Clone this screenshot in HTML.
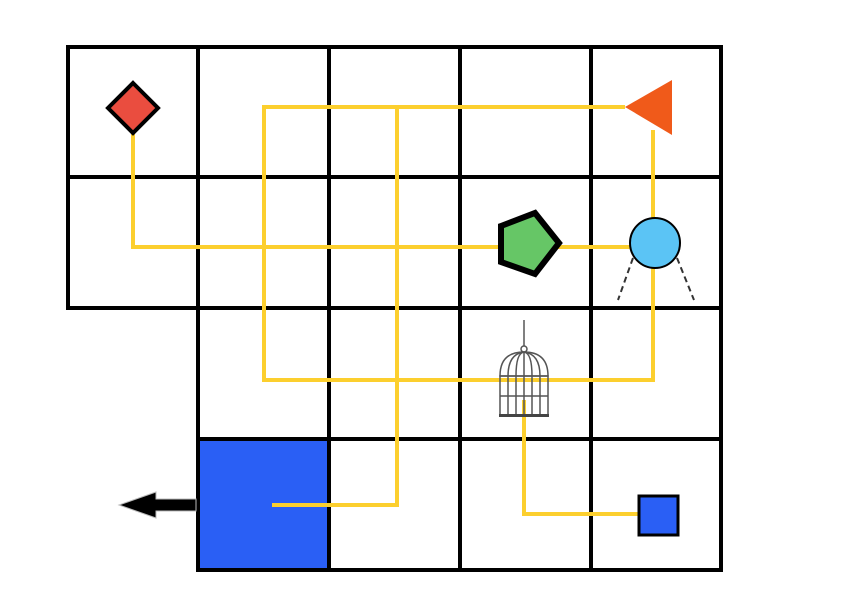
<!DOCTYPE html>
<html><head><style>body{margin:0;background:#fff}</style></head><body>
<svg width="843" height="597" xmlns="http://www.w3.org/2000/svg">
<rect x="198" y="439" width="131" height="131" fill="#2a5ff5"/>
<g stroke="#000" stroke-width="4" fill="none">
<rect x="68" y="47" width="653" height="261"/>
<rect x="198" y="308" width="523" height="262"/>
<line x1="68" y1="177" x2="721" y2="177"/>
<line x1="198" y1="439" x2="721" y2="439"/>
<line x1="198" y1="47" x2="198" y2="570"/>
<line x1="329" y1="47" x2="329" y2="570"/>
<line x1="460" y1="47" x2="460" y2="570"/>
<line x1="591" y1="47" x2="591" y2="570"/>
</g>
<g stroke="#fccf2e" stroke-width="4" fill="none">
<polyline points="133,108 133,247 630,247"/>
<polyline points="625,107 264,107 264,380 653,380 653,130"/>
<polyline points="397,107 397,505 272,505"/>
<polyline points="524,400 524,514 640,514"/>
</g>
<polygon points="133,83 158,108 133,133 108,108" fill="#ea4d3f" stroke="#000" stroke-width="4"/>
<polygon points="625,107 672,80 672,135" fill="#f05a1a"/>
<polygon points="501,226 535,213 559,243 535,274 501,262" fill="#66c666" stroke="#000" stroke-width="6"/>
<g stroke="#333" stroke-width="2" stroke-dasharray="6,4"><line x1="633" y1="258" x2="618" y2="300"/><line x1="677" y1="258" x2="694" y2="300"/></g>
<circle cx="655" cy="243" r="25" fill="#5bc4f5" stroke="#000" stroke-width="2"/>
<rect x="639" y="496" width="39" height="39" fill="#2a5ff5" stroke="#000" stroke-width="3"/>
<g stroke="#555" stroke-width="1.5" fill="none">
<line x1="524" y1="320" x2="524" y2="346"/><circle cx="524" cy="349" r="3"/>
<path d="M500,376 Q500,352 524,352 Q548,352 548,376 Z"/>
<path d="M508,376 Q508,354 524,352 Q540,354 540,376 M516,376 Q516,353 524,352 Q532,353 532,376 M524,352 V416"/>
<rect x="500" y="376" width="48" height="40"/>
<line x1="508" y1="376" x2="508" y2="416"/><line x1="516" y1="376" x2="516" y2="416"/><line x1="532" y1="376" x2="532" y2="416"/><line x1="540" y1="376" x2="540" y2="416"/>
<line x1="500" y1="396" x2="548" y2="396"/>
</g>
<rect x="499" y="414" width="50" height="3" fill="#444"/>
<polygon points="196,499 156,499 156,492 119,505 156,518 156,511 196,511" fill="#000" stroke="#bbb" stroke-width="1"/>
</svg>
</body></html>
